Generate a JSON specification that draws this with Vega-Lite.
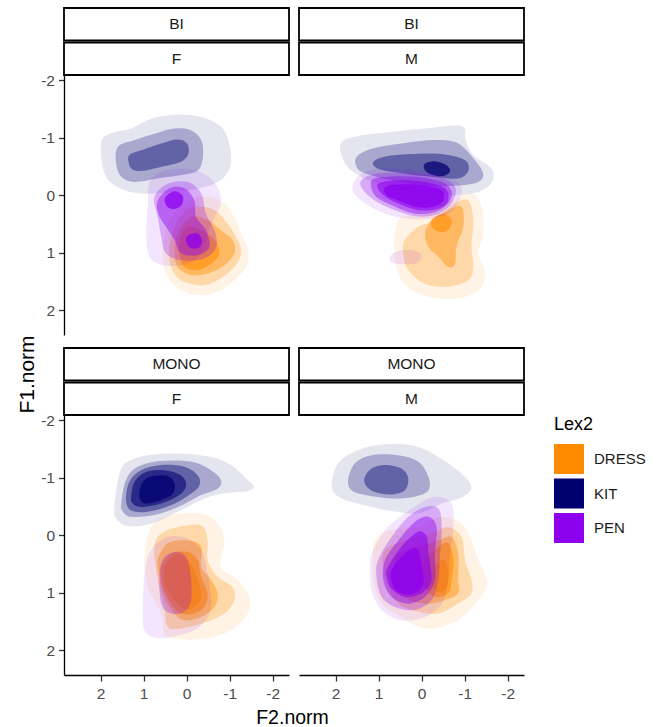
{
"$schema": "https://vega.github.io/schema/vega-lite/v6.json",
"padding": {"left": 16, "top": 7, "right": 5, "bottom": 0},
"background": "white",
"datasets": {
"dens": [
{"Lang":"BI","Sex":"F","Lex2":"DRESS","level":1,"id":1,"F2":[-0.03,-0.49,-0.87,-1.11,-1.27,-1.42,-1.42,-1.19,-0.80,-0.34,0.13,0.44,0.55,0.52,0.36],"F1":[0.09,0.03,0.14,0.38,0.67,0.90,1.19,1.42,1.65,1.74,1.65,1.42,1.13,0.72,0.38]},
{"Lang":"BI","Sex":"F","Lex2":"DRESS","level":2,"id":2,"F2":[-0.18,-0.65,-0.95,-1.19,-1.27,-1.11,-0.72,-0.34,0.13,0.36,0.40,0.28,0.09],"F1":[0.20,0.26,0.49,0.78,1.01,1.25,1.48,1.57,1.48,1.25,0.90,0.55,0.32]},
{"Lang":"BI","Sex":"F","Lex2":"DRESS","level":3,"id":3,"F2":[-0.10,-0.49,-0.80,-1.07,-1.11,-0.87,-0.49,-0.10,0.21,0.28,0.21],"F1":[0.38,0.43,0.61,0.78,1.01,1.22,1.36,1.39,1.25,0.96,0.67]},
{"Lang":"BI","Sex":"F","Lex2":"DRESS","level":4,"id":4,"F2":[-0.03,-0.34,-0.65,-0.76,-0.57,-0.26,0.05,0.17,0.13],"F1":[0.55,0.61,0.78,1.01,1.19,1.30,1.25,1.01,0.72]},
{"Lang":"BI","Sex":"F","Lex2":"KIT","level":1,"id":5,"F2":[1.99,1.79,1.29,0.83,0.28,-0.34,-0.80,-0.99,-1.03,-0.84,-0.41,0.28,1.06,1.60,1.91],"F1":[-0.90,-1.07,-1.16,-1.33,-1.40,-1.36,-1.19,-0.90,-0.55,-0.29,-0.14,-0.06,-0.03,-0.14,-0.38]},
{"Lang":"BI","Sex":"F","Lex2":"KIT","level":2,"id":6,"F2":[1.60,1.21,0.75,0.28,-0.10,-0.34,-0.38,-0.26,0.13,0.67,1.21,1.52,1.64],"F1":[-0.84,-0.96,-1.07,-1.16,-1.13,-0.96,-0.67,-0.43,-0.35,-0.29,-0.23,-0.32,-0.55]},
{"Lang":"BI","Sex":"F","Lex2":"KIT","level":3,"id":7,"F2":[1.33,1.06,0.59,0.21,-0.01,-0.04,0.13,0.59,1.06,1.28,1.35],"F1":[-0.70,-0.78,-0.90,-0.97,-0.90,-0.72,-0.58,-0.49,-0.42,-0.46,-0.58]},
{"Lang":"BI","Sex":"F","Lex2":"PEN","level":1,"id":8,"F2":[0.86,0.52,-0.03,-0.45,-0.72,-0.80,-0.65,-0.49,-0.34,-0.03,0.52,0.86,0.94,0.90],"F1":[-0.23,-0.43,-0.46,-0.35,-0.14,0.14,0.38,0.67,1.01,1.19,1.22,1.07,0.67,0.20]},
{"Lang":"BI","Sex":"F","Lex2":"PEN","level":2,"id":9,"F2":[0.75,0.44,-0.03,-0.34,-0.45,-0.65,-0.69,-0.41,0.13,0.48,0.59,0.67],"F1":[0.03,-0.20,-0.23,-0.03,0.32,0.61,0.90,1.10,1.13,1.01,0.72,0.38]},
{"Lang":"BI","Sex":"F","Lex2":"PEN","level":3,"id":10,"F2":[0.67,0.40,0.05,-0.18,-0.22,-0.45,-0.53,-0.26,0.13,0.28,0.48,0.66],"F1":[0.09,-0.12,-0.12,0.09,0.38,0.61,0.90,1.04,1.01,0.78,0.55,0.32]},
{"Lang":"BI","Sex":"F","Lex2":"PEN","level":5,"id":11,"F2":[0.50,0.28,0.09,0.11,0.28,0.46],"F1":[0.04,-0.07,0.01,0.16,0.24,0.19]},
{"Lang":"BI","Sex":"F","Lex2":"PEN","level":5,"id":12,"F2":[-0.05,-0.25,-0.36,-0.29,-0.08,0.02],"F1":[0.69,0.66,0.78,0.91,0.91,0.78]},

{"Lang":"BI","Sex":"M","Lex2":"DRESS","level":1,"id":13,"F2":[0.62,0.47,-0.08,-0.70,-1.16,-1.40,-1.43,-1.32,-1.47,-1.40,-1.01,-0.47,0.08,0.47,0.62],"F1":[0.67,0.38,0.32,0.09,-0.03,0.20,0.67,1.01,1.30,1.59,1.77,1.80,1.71,1.48,1.13]},
{"Lang":"BI","Sex":"M","Lex2":"DRESS","level":2,"id":14,"F2":[0.39,0.08,-0.31,-0.78,-1.09,-1.20,-1.16,-1.20,-1.09,-0.62,-0.08,0.31,0.43],"F1":[0.78,0.55,0.43,0.14,0.09,0.43,0.90,1.25,1.48,1.59,1.54,1.30,1.01]},
{"Lang":"BI","Sex":"M","Lex2":"DRESS","level":3,"id":15,"F2":[-0.08,-0.23,-0.62,-0.93,-0.97,-0.81,-0.78,-0.62,-0.39,-0.16],"F1":[0.67,0.43,0.26,0.20,0.55,0.90,1.19,1.25,1.07,0.90]},
{"Lang":"BI","Sex":"M","Lex2":"DRESS","level":4,"id":16,"F2":[-0.23,-0.50,-0.70,-0.62,-0.43,-0.27],"F1":[0.43,0.32,0.43,0.61,0.64,0.58]},
{"Lang":"BI","Sex":"M","Lex2":"KIT","level":1,"id":17,"F2":[1.88,1.47,0.70,-0.08,-0.93,-1.02,-1.20,-1.59,-1.67,-1.43,-0.85,-0.08,0.70,1.40,1.78],"F1":[-0.90,-1.03,-1.10,-1.16,-1.20,-0.96,-0.70,-0.49,-0.29,-0.09,0,-0.03,-0.14,-0.32,-0.55]},
{"Lang":"BI","Sex":"M","Lex2":"KIT","level":2,"id":18,"F2":[1.51,1.16,0.47,-0.31,-0.85,-1.24,-1.43,-1.32,-0.85,-0.08,0.70,1.32,1.51],"F1":[-0.67,-0.81,-0.90,-0.96,-0.90,-0.61,-0.38,-0.23,-0.17,-0.17,-0.26,-0.38,-0.49]},
{"Lang":"BI","Sex":"M","Lex2":"KIT","level":3,"id":19,"F2":[1.12,0.78,0.08,-0.54,-1.01,-1.09,-0.85,-0.23,0.47,1.01],"F1":[-0.58,-0.68,-0.72,-0.71,-0.61,-0.43,-0.29,-0.32,-0.38,-0.46]},
{"Lang":"BI","Sex":"M","Lex2":"KIT","level":5,"id":20,"F2":[-0.08,-0.31,-0.58,-0.66,-0.47,-0.19,-0.06],"F1":[-0.55,-0.59,-0.52,-0.41,-0.33,-0.37,-0.46]},
{"Lang":"BI","Sex":"M","Lex2":"PEN","level":1,"id":21,"F2":[1.55,1.24,0.70,-0.08,-0.62,-0.93,-0.85,-0.62,-0.23,0.31,0.85,1.32,1.59],"F1":[-0.26,-0.43,-0.46,-0.41,-0.32,-0.14,0.14,0.32,0.41,0.41,0.32,0.14,-0.06]},
{"Lang":"BI","Sex":"M","Lex2":"PEN","level":1,"id":22,"F2":[0.74,0.54,0.19,0,0.12,0.47,0.70],"F1":[1.07,0.97,0.96,1.04,1.18,1.20,1.16]},
{"Lang":"BI","Sex":"M","Lex2":"PEN","level":2,"id":23,"F2":[1.40,1.01,0.31,-0.39,-0.78,-0.70,-0.39,0.08,0.62,1.09,1.36],"F1":[-0.26,-0.38,-0.38,-0.32,-0.14,0.14,0.32,0.37,0.26,0.09,-0.09]},
{"Lang":"BI","Sex":"M","Lex2":"PEN","level":3,"id":24,"F2":[1.16,0.78,0.16,-0.47,-0.70,-0.62,-0.31,0.16,0.70,1.09],"F1":[-0.26,-0.32,-0.32,-0.23,-0.06,0.14,0.29,0.32,0.17,0]},
{"Lang":"BI","Sex":"M","Lex2":"PEN","level":4,"id":25,"F2":[1.01,0.54,-0.08,-0.54,-0.62,-0.39,0.08,0.62,0.93],"F1":[-0.20,-0.26,-0.23,-0.12,0.09,0.23,0.26,0.12,-0.03]},
{"Lang":"BI","Sex":"M","Lex2":"PEN","level":5,"id":26,"F2":[0.85,0.47,-0.08,-0.47,-0.50,-0.31,0.08,0.54,0.81],"F1":[-0.14,-0.19,-0.17,-0.08,0.09,0.19,0.21,0.09,0]},

{"Lang":"MONO","Sex":"F","Lex2":"DRESS","level":1,"id":27,"F2":[0.98,0.83,0.36,-0.34,-0.72,-0.88,-0.80,-1.19,-1.46,-1.42,-1.03,-0.41,0.28,0.52,0.59,0.90],"F1":[0.38,-0.14,-0.35,-0.38,-0.20,0.09,0.55,0.78,1.07,1.36,1.65,1.80,1.80,1.71,1.36,0.90]},
{"Lang":"MONO","Sex":"F","Lex2":"DRESS","level":2,"id":28,"F2":[0.75,0.59,0.21,-0.34,-0.49,-0.49,-0.72,-1.07,-1.11,-0.88,-0.34,0.13,0.44,0.52,0.67],"F1":[0.20,-0.03,-0.14,-0.17,0.09,0.43,0.72,0.90,1.13,1.36,1.54,1.62,1.59,1.25,0.78]},
{"Lang":"MONO","Sex":"F","Lex2":"DRESS","level":3,"id":29,"F2":[0.67,0.44,-0.03,-0.34,-0.34,-0.57,-0.72,-0.65,-0.34,0.05,0.28,0.52,0.63],"F1":[0.43,0.14,0.09,0.20,0.55,0.78,1.01,1.25,1.42,1.48,1.36,1.07,0.72]},
{"Lang":"MONO","Sex":"F","Lex2":"DRESS","level":4,"id":30,"F2":[0.59,0.36,-0.03,-0.26,-0.34,-0.49,-0.41,-0.18,0.13,0.36,0.55],"F1":[0.55,0.32,0.29,0.43,0.72,1.01,1.25,1.36,1.36,1.19,0.90]},
{"Lang":"MONO","Sex":"F","Lex2":"DRESS","level":5,"id":31,"F2":[0.52,0.36,0.13,-0.10,-0.26,-0.34,-0.18,0.05,0.28,0.48],"F1":[0.61,0.38,0.35,0.49,0.78,1.07,1.25,1.28,1.13,0.90]},
{"Lang":"MONO","Sex":"F","Lex2":"KIT","level":1,"id":32,"F2":[1.68,1.56,1.37,0.90,0.20,-0.57,-1.03,-1.42,-1.56,-1.42,-0.80,-0.34,0.20,0.83,1.37,1.64],"F1":[-0.49,-1.07,-1.28,-1.39,-1.42,-1.36,-1.22,-0.96,-0.85,-0.77,-0.72,-0.61,-0.41,-0.20,-0.16,-0.29]},
{"Lang":"MONO","Sex":"F","Lex2":"KIT","level":2,"id":33,"F2":[1.52,1.41,1.14,0.59,-0.10,-0.57,-0.80,-0.72,-0.34,0.20,0.75,1.29,1.48],"F1":[-0.55,-0.96,-1.19,-1.29,-1.28,-1.13,-0.96,-0.81,-0.70,-0.49,-0.35,-0.32,-0.41]},
{"Lang":"MONO","Sex":"F","Lex2":"KIT","level":3,"id":34,"F2":[1.41,1.33,1.06,0.59,0.05,-0.26,-0.30,-0.10,0.36,0.90,1.29],"F1":[-0.61,-0.93,-1.13,-1.22,-1.19,-1.04,-0.87,-0.72,-0.52,-0.41,-0.43]},
{"Lang":"MONO","Sex":"F","Lex2":"KIT","level":4,"id":35,"F2":[1.29,1.21,0.94,0.52,0.13,0.01,0.17,0.59,1.06,1.25],"F1":[-0.67,-0.93,-1.10,-1.13,-1.04,-0.87,-0.70,-0.55,-0.49,-0.55]},
{"Lang":"MONO","Sex":"F","Lex2":"KIT","level":5,"id":36,"F2":[1.10,1.02,0.79,0.44,0.28,0.32,0.59,0.94,1.07],"F1":[-0.72,-0.93,-1.03,-1.03,-0.90,-0.72,-0.61,-0.55,-0.61]},
{"Lang":"MONO","Sex":"F","Lex2":"PEN","level":1,"id":37,"F2":[1.02,0.98,0.83,0.44,-0.03,-0.34,-0.49,-0.57,-0.49,-0.18,0.36,0.75,0.98],"F1":[1.36,0.67,0.26,0.03,0.06,0.26,0.67,1.13,1.42,1.65,1.77,1.78,1.65]},
{"Lang":"MONO","Sex":"F","Lex2":"PEN","level":2,"id":38,"F2":[0.63,0.52,0.24,0.01,-0.10,-0.10,0.05,0.36,0.59],"F1":[0.67,0.38,0.29,0.38,0.72,1.13,1.33,1.36,1.19]},

{"Lang":"MONO","Sex":"M","Lex2":"DRESS","level":1,"id":40,"F2":[1.09,0.70,0.08,-0.47,-0.93,-1.16,-1.32,-1.47,-1.51,-1.24,-0.85,-0.31,0.08,0.47,0.85,1.09,1.12],"F1":[0.09,-0.09,-0.14,-0.32,-0.20,0.09,0.43,0.67,0.90,1.19,1.48,1.62,1.59,1.42,1.25,0.90,0.49]},
{"Lang":"MONO","Sex":"M","Lex2":"DRESS","level":2,"id":41,"F2":[0.85,0.39,-0.23,-0.62,-0.93,-1.01,-1.16,-1.16,-0.85,-0.39,0.08,0.54,0.78,0.89],"F1":[0.26,0.09,-0.03,-0.14,0.03,0.43,0.78,1.01,1.19,1.36,1.33,1.19,0.90,0.55]},
{"Lang":"MONO","Sex":"M","Lex2":"DRESS","level":3,"id":42,"F2":[0.54,0.08,-0.39,-0.70,-0.85,-0.85,-0.85,-0.54,-0.08,0.39,0.62,0.62],"F1":[0.32,0.20,0.09,0.03,0.32,0.78,1.01,1.13,1.19,1.07,0.78,0.49]},
{"Lang":"MONO","Sex":"M","Lex2":"DRESS","level":4,"id":43,"F2":[-0.08,-0.39,-0.62,-0.74,-0.70,-0.62,-0.31,-0.08,0],"F1":[0.43,0.20,0.14,0.43,0.78,1.01,1.07,0.90,0.67]},
{"Lang":"MONO","Sex":"M","Lex2":"DRESS","level":5,"id":44,"F2":[-0.27,-0.50,-0.62,-0.58,-0.39,-0.23],"F1":[0.61,0.43,0.61,0.90,0.99,0.84]},
{"Lang":"MONO","Sex":"M","Lex2":"KIT","level":1,"id":45,"F2":[2.09,1.94,1.47,0.85,0.16,-0.39,-0.93,-1.16,-0.97,-0.47,0.08,0.70,1.32,1.86],"F1":[-0.84,-1.25,-1.48,-1.58,-1.55,-1.36,-1.07,-0.84,-0.67,-0.55,-0.38,-0.42,-0.52,-0.64]},
{"Lang":"MONO","Sex":"M","Lex2":"KIT","level":2,"id":46,"F2":[1.71,1.55,1.16,0.54,0.08,-0.16,-0.16,0.16,0.70,1.32,1.63],"F1":[-0.96,-1.25,-1.39,-1.39,-1.28,-1.01,-0.78,-0.67,-0.64,-0.70,-0.78]},
{"Lang":"MONO","Sex":"M","Lex2":"KIT","level":3,"id":47,"F2":[1.32,1.16,0.85,0.47,0.31,0.39,0.70,1.09,1.30],"F1":[-1.01,-1.16,-1.22,-1.16,-0.99,-0.78,-0.71,-0.75,-0.87]},
{"Lang":"MONO","Sex":"M","Lex2":"PEN","level":1,"id":48,"F2":[1.16,0.85,0.39,-0.08,-0.39,-0.70,-0.74,-0.66,-0.62,-0.47,-0.08,0.47,0.93,1.16,1.20],"F1":[0.32,-0.09,-0.38,-0.61,-0.67,-0.55,-0.14,0.32,0.78,1.19,1.42,1.48,1.30,0.96,0.61]},
{"Lang":"MONO","Sex":"M","Lex2":"PEN","level":2,"id":49,"F2":[1.01,0.70,0.31,-0.08,-0.39,-0.47,-0.43,-0.39,-0.23,0.16,0.62,0.93,1.05],"F1":[0.43,0.03,-0.32,-0.49,-0.46,-0.14,0.32,0.78,1.13,1.30,1.25,1.07,0.72]},
{"Lang":"MONO","Sex":"M","Lex2":"PEN","level":3,"id":50,"F2":[0.85,0.54,0.16,-0.16,-0.35,-0.31,-0.31,-0.08,0.31,0.70,0.89],"F1":[0.43,0.09,-0.23,-0.32,-0.14,0.32,0.78,1.07,1.19,1.07,0.78]},
{"Lang":"MONO","Sex":"M","Lex2":"PEN","level":4,"id":51,"F2":[0.78,0.47,0.08,-0.12,-0.16,-0.23,0,0.39,0.70,0.81],"F1":[0.55,0.20,-0.06,0.03,0.32,0.78,1.01,1.07,0.93,0.72]},
{"Lang":"MONO","Sex":"M","Lex2":"PEN","level":5,"id":52,"F2":[0.70,0.39,0.12,0,-0.04,0.16,0.47,0.66],"F1":[0.61,0.32,0.23,0.49,0.84,1.01,1.01,0.90]}
]
},
"concat": [
{"width": 225, "height": 67, "data": {"values": [{"strip": "BI", "tier": 1}, {"strip": "F", "tier": 2}]},
 "encoding": {"y": {"field": "tier", "type": "ordinal", "axis": null, "scale": {"paddingInner": 0.058, "paddingOuter": 0}}},
 "layer": [{"mark": {"type": "rect", "fill": "white", "stroke": "black", "strokeWidth": 1.8}},
           {"mark": {"type": "text", "fontSize": 15.5, "color": "#1a1a1a"}, "encoding": {"text": {"field": "strip"}}}]},
{"width": 225, "height": 67, "data": {"values": [{"strip": "BI", "tier": 1}, {"strip": "M", "tier": 2}]},
 "encoding": {"y": {"field": "tier", "type": "ordinal", "axis": null, "scale": {"paddingInner": 0.058, "paddingOuter": 0}}},
 "layer": [{"mark": {"type": "rect", "fill": "white", "stroke": "black", "strokeWidth": 1.8}},
           {"mark": {"type": "text", "fontSize": 15.5, "color": "#1a1a1a"}, "encoding": {"text": {"field": "strip"}}}]},
{"width": 225, "height": 260, "data": {"name": "dens"},
 "transform": [{"filter": "datum.Lang === 'BI' && datum.Sex === 'F'"}, {"flatten": ["F2", "F1"]}],
 "mark": {"type": "line", "filled": true, "interpolate": "cardinal-closed", "clip": true},
 "encoding": {
  "x": {"field": "F2", "type": "quantitative", "scale": {"domain": [-2.38, 2.85], "reverse": true, "nice": false, "zero": false}, "axis": null},
  "y": {"field": "F1", "type": "quantitative", "scale": {"domain": [-2.09, 2.43], "reverse": true, "nice": false, "zero": false},
        "axis": {"values": [-2, -1, 0, 1, 2], "labelExpr": "'' + datum.value", "title": "F1.norm", "titleFontSize": 21, "titleX": -31, "titleY": 299, "titleBaseline": "alphabetic", "titleAngle": -90, "titleAlign": "center"}},
  "color": {"field": "Lex2", "type": "nominal", "scale": {"domain": ["DRESS", "KIT", "PEN"], "range": ["#FF8C00", "#000070", "#8C00EE"]}, "legend": {"title": "Lex2", "orient": "none", "legendX": 490, "legendY": 408}},
  "opacity": {"field": "level", "type": "quantitative", "scale": {"domain": [1, 6], "range": [0.1, 0.9]}, "legend": null},
  "detail": {"field": "id", "type": "nominal"},
  "order": {"value": null}
 }},
{"width": 225, "height": 260, "data": {"name": "dens"},
 "transform": [{"filter": "datum.Lang === 'BI' && datum.Sex === 'M'"}, {"flatten": ["F2", "F1"]}],
 "mark": {"type": "line", "filled": true, "interpolate": "cardinal-closed", "clip": true},
 "encoding": {
  "x": {"field": "F2", "type": "quantitative", "scale": {"domain": [-2.38, 2.85], "reverse": true, "nice": false, "zero": false}, "axis": null},
  "y": {"field": "F1", "type": "quantitative", "scale": {"domain": [-2.09, 2.43], "reverse": true, "nice": false, "zero": false}, "axis": null},
  "color": {"field": "Lex2", "type": "nominal", "scale": {"domain": ["DRESS", "KIT", "PEN"], "range": ["#FF8C00", "#000070", "#8C00EE"]}, "legend": {"title": "Lex2", "orient": "none", "legendX": 490, "legendY": 408}},
  "opacity": {"field": "level", "type": "quantitative", "scale": {"domain": [1, 6], "range": [0.1, 0.9]}, "legend": null},
  "detail": {"field": "id", "type": "nominal"},
  "order": {"value": null}
 }},
{"width": 225, "height": 80, "data": {"values": [{"strip": "MONO", "tier": 1}, {"strip": "F", "tier": 2}]},
 "encoding": {"y": {"field": "tier", "type": "ordinal", "axis": null, "scale": {"paddingInner": 0.058, "paddingOuter": 0.1884, "align": 1}}},
 "layer": [{"mark": {"type": "rect", "fill": "white", "stroke": "black", "strokeWidth": 1.8}},
           {"mark": {"type": "text", "fontSize": 15.5, "color": "#1a1a1a"}, "encoding": {"text": {"field": "strip"}}}]},
{"width": 225, "height": 80, "data": {"values": [{"strip": "MONO", "tier": 1}, {"strip": "M", "tier": 2}]},
 "encoding": {"y": {"field": "tier", "type": "ordinal", "axis": null, "scale": {"paddingInner": 0.058, "paddingOuter": 0.1884, "align": 1}}},
 "layer": [{"mark": {"type": "rect", "fill": "white", "stroke": "black", "strokeWidth": 1.8}},
           {"mark": {"type": "text", "fontSize": 15.5, "color": "#1a1a1a"}, "encoding": {"text": {"field": "strip"}}}]},
{"width": 225, "height": 260, "data": {"name": "dens"},
 "transform": [{"filter": "datum.Lang === 'MONO' && datum.Sex === 'F'"}, {"flatten": ["F2", "F1"]}],
 "mark": {"type": "line", "filled": true, "interpolate": "cardinal-closed", "clip": true},
 "encoding": {
  "x": {"field": "F2", "type": "quantitative", "scale": {"domain": [-2.38, 2.85], "reverse": true, "nice": false, "zero": false},
        "axis": {"values": [-2, -1, 0, 1, 2], "labelExpr": "'' + datum.value", "title": "F2.norm", "titleX": 228, "titleY": 48, "titleBaseline": "alphabetic", "titleAlign": "center"}},
  "y": {"field": "F1", "type": "quantitative", "scale": {"domain": [-2.09, 2.43], "reverse": true, "nice": false, "zero": false}, "axis": {"values": [-2, -1, 0, 1, 2], "labelExpr": "'' + datum.value", "title": null}},
  "color": {"field": "Lex2", "type": "nominal", "scale": {"domain": ["DRESS", "KIT", "PEN"], "range": ["#FF8C00", "#000070", "#8C00EE"]}, "legend": {"title": "Lex2", "orient": "none", "legendX": 490, "legendY": 408}},
  "opacity": {"field": "level", "type": "quantitative", "scale": {"domain": [1, 6], "range": [0.1, 0.9]}, "legend": null},
  "detail": {"field": "id", "type": "nominal"},
  "order": {"value": null}
 }},
{"width": 225, "height": 260, "data": {"name": "dens"},
 "transform": [{"filter": "datum.Lang === 'MONO' && datum.Sex === 'M'"}, {"flatten": ["F2", "F1"]}],
 "mark": {"type": "line", "filled": true, "interpolate": "cardinal-closed", "clip": true},
 "encoding": {
  "x": {"field": "F2", "type": "quantitative", "scale": {"domain": [-2.38, 2.85], "reverse": true, "nice": false, "zero": false}, "axis": {"values": [-2, -1, 0, 1, 2], "labelExpr": "'' + datum.value", "title": null}},
  "y": {"field": "F1", "type": "quantitative", "scale": {"domain": [-2.09, 2.43], "reverse": true, "nice": false, "zero": false}, "axis": null},
  "color": {"field": "Lex2", "type": "nominal", "scale": {"domain": ["DRESS", "KIT", "PEN"], "range": ["#FF8C00", "#000070", "#8C00EE"]}, "legend": {"title": "Lex2", "orient": "none", "legendX": 490, "legendY": 408}},
  "opacity": {"field": "level", "type": "quantitative", "scale": {"domain": [1, 6], "range": [0.1, 0.9]}, "legend": null},
  "detail": {"field": "id", "type": "nominal"},
  "order": {"value": null}
 }}
],
"columns": 2,
"spacing": {"row": 0, "column": 10},
"align": "each",
"bounds": "flush",
"config": {
 "font": "Liberation Sans",
 "view": {"stroke": null},
 "axis": {"grid": false, "domainColor": "black", "domainWidth": 1.3, "tickColor": "#333333", "tickWidth": 1.3, "labelFontSize": 15.5, "labelColor": "#4d4d4d", "titleFontSize": 19.5, "titleFontWeight": "normal", "titleColor": "black"},
 "axisX": {"tickSize": 6, "labelPadding": 5},
 "axisY": {"tickSize": 5.5, "labelPadding": 4},
 "legend": {"titleFontSize": 18, "titleFontWeight": "normal", "titleColor": "black", "labelFontSize": 15, "labelColor": "#1a1a1a", "symbolType": "square", "symbolSize": 900, "symbolOpacity": 1, "symbolStrokeWidth": 0, "rowPadding": 4.5, "labelOffset": 10, "titlePadding": 10}
}
}
